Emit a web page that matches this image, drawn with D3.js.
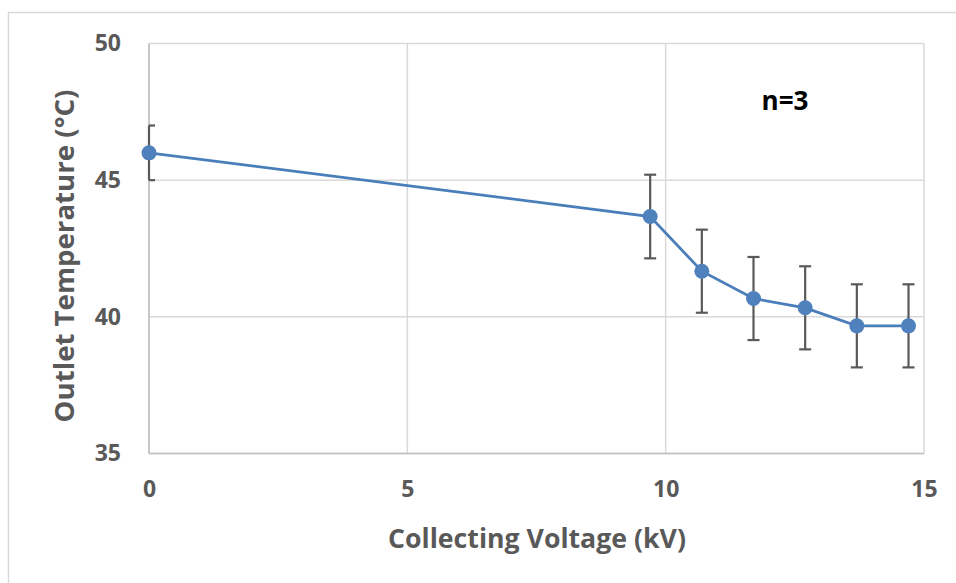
<!DOCTYPE html>
<html>
<head>
<meta charset="utf-8">
<script src="https://cdn.jsdelivr.net/npm/d3@7/dist/d3.min.js"></script>
<style>
  html, body { margin: 0; padding: 0; background: #fff; }
  svg { display: block; }
  text { font-family: "Open Sans", Lato, "DejaVu Sans", sans-serif; font-weight: bold; }
</style>
</head>
<body>
<svg id="chart" width="956" height="583"></svg>
<script>
// Collecting voltage (kV) vs outlet temperature (°C), mean ± error, n=3
const voltages = [0, 9.7, 10.7, 11.7, 12.7, 13.7, 14.7];
const temps    = [46, 43.67, 41.67, 40.67, 40.33, 39.67, 39.67];
const errors   = [1, 1.53, 1.52, 1.52, 1.52, 1.52, 1.52];
const xTicks = [0, 5, 10, 15];
const yTicks = [35, 40, 45, 50];

const svg = d3.select("#chart");
const W = 956, H = 583;
const plot = { left: 149, right: 924, top: 43.5, bottom: 453.5 };

const x = d3.scaleLinear().domain([0, 15]).range([plot.left, plot.right]);
const y = d3.scaleLinear().domain([35, 50]).range([plot.bottom, plot.top]);

// outer chart frame
svg.append("rect")
  .attr("x", 8.5).attr("y", 12.5)
  .attr("width", W).attr("height", H)
  .attr("fill", "#fff").attr("stroke", "#d9d9d9").attr("stroke-width", 1.5);

// gridlines
const grid = svg.append("g");
grid.selectAll(".gx").data(xTicks).join("line")
  .attr("x1", d => x(d)).attr("x2", d => x(d))
  .attr("y1", plot.top).attr("y2", plot.bottom)
  .attr("stroke", "#d9d9d9").attr("stroke-width", 1.5);
grid.selectAll(".gy").data(yTicks).join("line")
  .attr("x1", plot.left).attr("x2", plot.right)
  .attr("y1", d => y(d)).attr("y2", d => y(d))
  .attr("stroke", "#d9d9d9").attr("stroke-width", 1.5);

// axis lines
svg.append("line").attr("x1", plot.left).attr("x2", plot.left)
  .attr("y1", plot.top).attr("y2", plot.bottom)
  .attr("stroke", "#bfbfbf").attr("stroke-width", 1.5);
svg.append("line").attr("x1", plot.left).attr("x2", plot.right)
  .attr("y1", plot.bottom).attr("y2", plot.bottom)
  .attr("stroke", "#bfbfbf").attr("stroke-width", 1.5);

// tick labels via d3 axes (domain and tick lines hidden)
const xAxis = svg.append("g")
  .attr("transform", `translate(0,${plot.bottom})`)
  .call(d3.axisBottom(x).tickValues(xTicks).tickSize(0).tickPadding(27).tickFormat(d3.format("d")));
const yAxis = svg.append("g")
  .attr("transform", `translate(${plot.left},0)`)
  .call(d3.axisLeft(y).tickValues(yTicks).tickSize(0).tickPadding(28).tickFormat(d3.format("d")));
[xAxis, yAxis].forEach(g => {
  g.select(".domain").remove();
  g.selectAll("text").attr("fill", "#595959").style("font-size", "23px")
    .style("font-family", "'Open Sans', Lato, sans-serif").style("font-weight", "bold");
});

// fit a title's font size to a target width
function fitText(sel, targetWidth) {
  const fs = parseFloat(sel.style("font-size"));
  const w = sel.node().getComputedTextLength();
  if (w > 0) sel.style("font-size", (fs * targetWidth / w).toFixed(2) + "px");
}

// axis titles
const xTitle = svg.append("text")
  .attr("x", 537).attr("y", 548)
  .attr("text-anchor", "middle")
  .attr("fill", "#595959").style("font-size", "25px")
  .text("Collecting Voltage (kV)");
fitText(xTitle, 298);
const yTitle = svg.append("text")
  .attr("transform", "translate(74,256) rotate(-90)")
  .attr("text-anchor", "middle")
  .attr("fill", "#595959").style("font-size", "25px")
  .text("Outlet Temperature (°C)");
fitText(yTitle, 333);

// sample size note
const note = svg.append("text")
  .attr("x", 785).attr("y", 110)
  .attr("text-anchor", "middle")
  .attr("fill", "#000").style("font-size", "22px")
  .text("n=3");
fitText(note, 47);

const data = voltages.map((v, i) => ({ v, t: temps[i], e: errors[i] }));

// error bars
const eb = svg.append("g").attr("stroke", "#595959").attr("stroke-width", 2.2);
const cap = 6;
data.forEach(d => {
  const cx = x(d.v);
  const left = cx <= plot.left ? cx : cx - cap;
  eb.append("line").attr("x1", cx).attr("x2", cx)
    .attr("y1", y(d.t + d.e)).attr("y2", y(d.t - d.e));
  eb.append("line").attr("x1", left).attr("x2", cx + cap)
    .attr("y1", y(d.t + d.e)).attr("y2", y(d.t + d.e));
  eb.append("line").attr("x1", left).attr("x2", cx + cap)
    .attr("y1", y(d.t - d.e)).attr("y2", y(d.t - d.e));
});

// series line
svg.append("path")
  .datum(data)
  .attr("fill", "none")
  .attr("stroke", "#4a7ebb")
  .attr("stroke-width", 2.8)
  .attr("d", d3.line().x(d => x(d.v)).y(d => y(d.t)));

// markers
svg.append("g").selectAll("circle").data(data).join("circle")
  .attr("cx", d => x(d.v)).attr("cy", d => y(d.t))
  .attr("r", 7.5)
  .attr("fill", "#4f81bd");
</script>
</body>
</html>
